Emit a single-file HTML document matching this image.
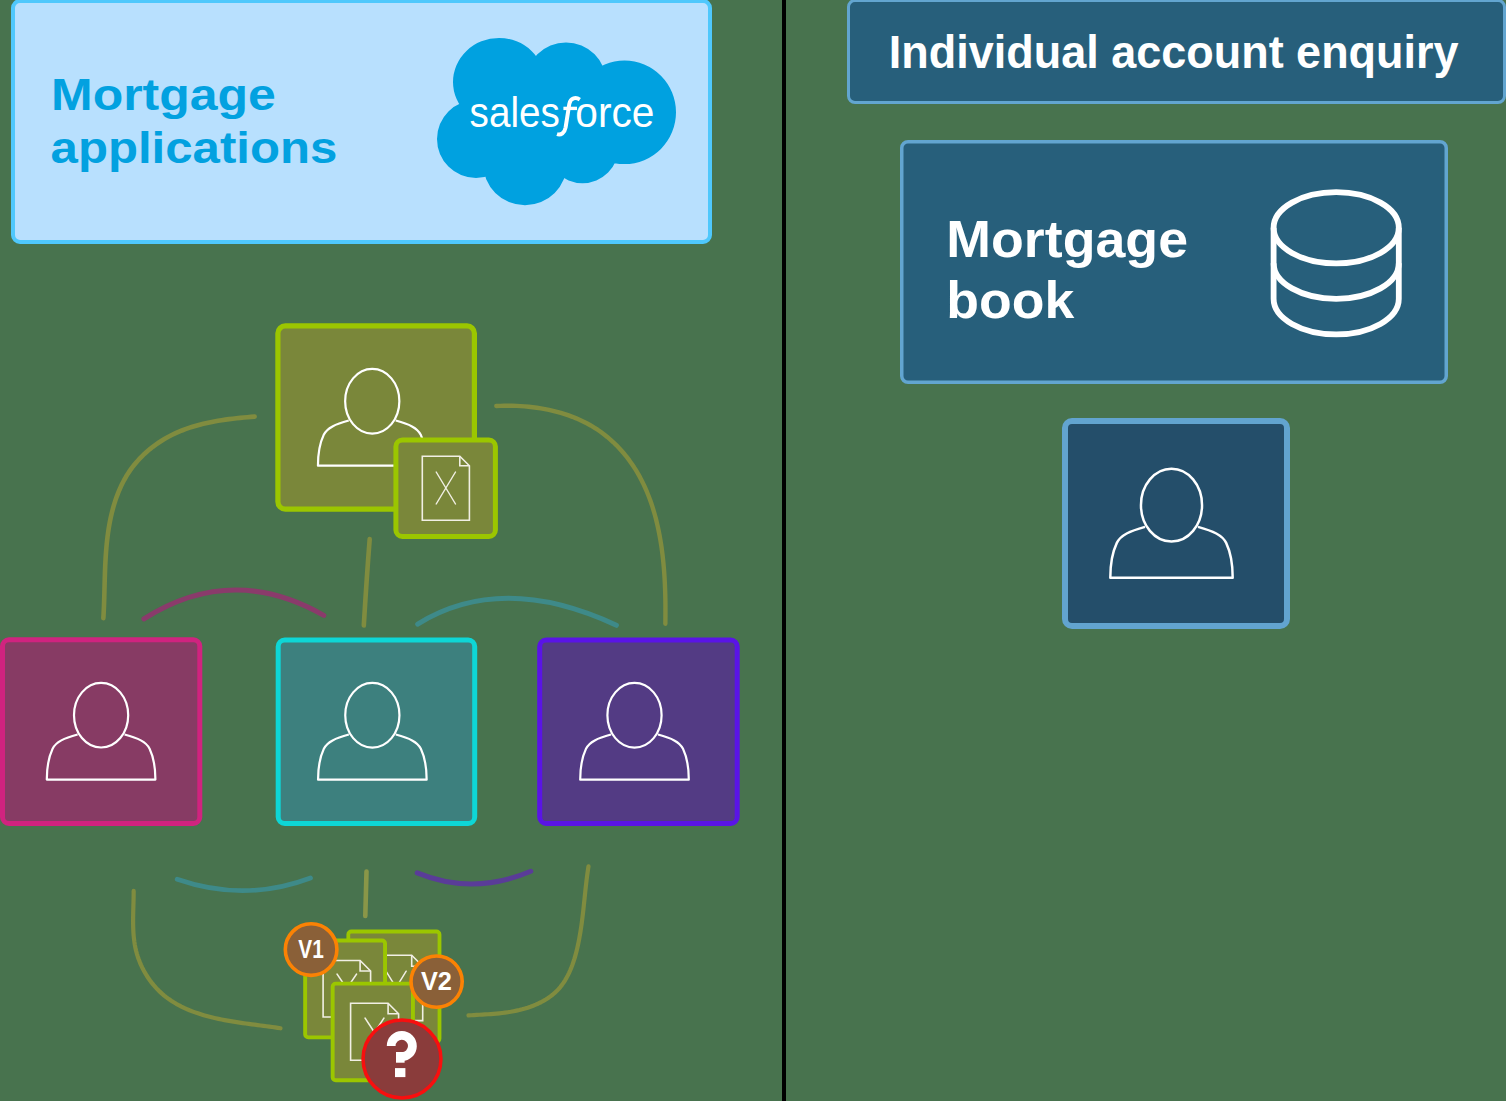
<!DOCTYPE html>
<html><head><meta charset="utf-8"><title>Mortgage diagram</title>
<style>html,body{margin:0;padding:0;background:#48734e;overflow:hidden;}svg{display:block;}text{font-family:"Liberation Sans",sans-serif;}</style>
</head><body><svg width="1506" height="1101" viewBox="0 0 1506 1101"><rect x="0" y="0" width="1506" height="1101" fill="#48734e"/><rect x="13.00" y="1.00" width="697.00" height="241.00" rx="7.00" fill="#b8e0fe" stroke="#4fc8fc" stroke-width="4.00"/><path fill="#00a1e0" fill-rule="nonzero" d="M453.00,82.00 A46.00,44.00 0 1 0 545.00,82.00 A46.00,44.00 0 1 0 453.00,82.00 ZM525.50,83.00 A40.50,40.50 0 1 0 606.50,83.00 A40.50,40.50 0 1 0 525.50,83.00 ZM573.00,112.30 A51.50,51.80 0 1 0 676.00,112.30 A51.50,51.80 0 1 0 573.00,112.30 ZM437.00,139.00 A39.00,39.00 0 1 0 515.00,139.00 A39.00,39.00 0 1 0 437.00,139.00 ZM483.00,163.30 A42.00,42.00 0 1 0 567.00,163.30 A42.00,42.00 0 1 0 483.00,163.30 ZM546.30,147.00 A36.20,36.20 0 1 0 618.70,147.00 A36.20,36.20 0 1 0 546.30,147.00 ZM476,139 L525,163.3 L582.5,147 L624.5,112.3 L566,83 L499,82 Z"/><text transform="matrix(0.9200,0,0,1.0000,469.60,127.30)" x="0" y="0" font-family="Liberation Sans" font-weight="normal" font-size="42.00" fill="#ffffff">sales</text><text transform="matrix(0.9680,0,0,1.0000,575.30,127.30)" x="0" y="0" font-family="Liberation Sans" font-weight="normal" font-size="42.00" fill="#ffffff">orce</text><path d="M579.8,99.6 C576,97 570.5,97.5 569.3,104 L565.6,127.5 C564.6,133 561,135.5 557,134.2" fill="none" stroke="#ffffff" stroke-width="4"/><path d="M563.4,108.4 L577,108.4" fill="none" stroke="#ffffff" stroke-width="3.4"/><text transform="matrix(1.1360,0,0,1.0000,51.00,110.40)" x="0" y="0" font-family="Liberation Sans" font-weight="bold" font-size="44.00" fill="#02a1e0">Mortgage</text><text transform="matrix(1.1170,0,0,1.0000,50.60,162.90)" x="0" y="0" font-family="Liberation Sans" font-weight="bold" font-size="44.00" fill="#02a1e0">applications</text><rect x="782" y="0" width="4" height="1101" fill="#000000"/><rect x="848.50" y="0.50" width="656.00" height="102.00" rx="6.50" fill="#275f7b" stroke="#62a5d0" stroke-width="3.00"/><text transform="matrix(0.9886,0,0,1.0000,888.80,67.50)" x="0" y="0" font-family="Liberation Sans" font-weight="bold" font-size="45.50" fill="#ffffff">Individual account enquiry</text><rect x="901.75" y="141.75" width="544.50" height="240.50" rx="6.25" fill="#275f7b" stroke="#62a5d0" stroke-width="3.50"/><text transform="matrix(1.0330,0,0,1.0000,946.30,256.80)" x="0" y="0" font-family="Liberation Sans" font-weight="bold" font-size="52.00" fill="#ffffff">Mortgage</text><text transform="matrix(1.0300,0,0,1.0000,946.30,318.40)" x="0" y="0" font-family="Liberation Sans" font-weight="bold" font-size="52.00" fill="#ffffff">book</text><g fill="none" stroke="#ffffff" stroke-width="5.8"><ellipse cx="1336.2" cy="227.8" rx="62.6" ry="35.6"/><path d="M1273.6,227.8 L1273.6,298.8 A62.6,35.6 0 0 0 1398.8,298.8 L1398.8,227.8"/><path d="M1273.6,263.2 A62.6,35.6 0 0 0 1398.8,263.2"/></g><rect x="1065.00" y="421.00" width="222.00" height="205.00" rx="7.00" fill="#244e6a" stroke="#62a4cf" stroke-width="6.00"/><path d="M1145.02,526.90 C1129.80,531.07 1120.79,535.02 1116.84,542.90 C1111.77,553.61 1110.30,566.01 1110.30,577.73 L1232.70,577.73 C1232.70,566.01 1231.23,553.61 1226.16,542.90 C1222.21,535.02 1213.20,531.07 1197.98,526.90" fill="none" stroke="#ffffff" stroke-width="2.48" stroke-linejoin="round"/><ellipse cx="1171.50" cy="505.15" rx="30.54" ry="36.40" fill="none" stroke="#ffffff" stroke-width="2.48"/><path d="M254.64,416.60 L251.05,416.88 L247.43,417.18 L243.80,417.51 L240.14,417.86 L236.47,418.25 L232.78,418.67 L229.09,419.13 L225.40,419.64 L221.70,420.19 L218.01,420.80 L214.32,421.46 L210.64,422.18 L206.98,422.96 L203.33,423.81 L199.69,424.72 L196.09,425.71 L192.50,426.78 L188.95,427.93 L185.43,429.17 L181.95,430.49 L178.51,431.91 L175.11,433.42 L171.75,435.03 L168.45,436.74 L165.20,438.56 L162.01,440.48 L158.88,442.49 L155.83,444.60 L152.84,446.80 L149.93,449.10 L147.10,451.49 L144.35,453.96 L141.70,456.53 L139.13,459.18 L136.67,461.92 L134.31,464.73 L132.05,467.63 L129.91,470.61 L127.88,473.67 L125.97,476.80 L124.16,479.99 L122.45,483.25 L120.85,486.57 L119.36,489.95 L117.95,493.37 L116.64,496.84 L115.42,500.35 L114.29,503.89 L113.25,507.46 L112.28,511.06 L111.39,514.69 L110.58,518.33 L109.84,521.98 L109.17,525.64 L108.56,529.32 L108.02,533.01 L107.53,536.70 L107.09,540.41 L106.70,544.12 L106.36,547.84 L106.06,551.56 L105.80,555.28 L105.57,559.01 L105.37,562.74 L105.19,566.48 L105.04,570.21 L104.91,573.93 L104.79,577.66 L104.68,581.38 L104.58,585.10 L104.48,588.81 L104.39,592.52 L104.28,596.21 L104.17,599.90 L104.05,603.58 L103.91,607.24 L103.75,610.90 L103.57,614.53 L103.36,618.16" fill="none" stroke="#808c3f" stroke-width="4.60" stroke-linecap="round" stroke-linejoin="round"/><path d="M496.28,406.02 L500.27,405.84 L504.28,405.74 L508.31,405.71 L512.36,405.75 L516.43,405.88 L520.50,406.08 L524.58,406.37 L528.66,406.74 L532.74,407.20 L536.81,407.74 L540.87,408.37 L544.92,409.09 L548.95,409.90 L552.95,410.81 L556.92,411.82 L560.86,412.92 L564.77,414.12 L568.63,415.42 L572.46,416.83 L576.23,418.34 L579.95,419.96 L583.61,421.68 L587.21,423.52 L590.74,425.47 L594.21,427.53 L597.60,429.71 L600.91,432.00 L604.14,434.41 L607.29,436.93 L610.36,439.55 L613.34,442.27 L616.24,445.08 L619.04,447.99 L621.76,450.98 L624.39,454.05 L626.92,457.20 L629.35,460.42 L631.69,463.70 L633.94,467.05 L636.08,470.45 L638.12,473.91 L640.08,477.43 L641.94,480.99 L643.71,484.61 L645.39,488.27 L646.99,491.97 L648.50,495.72 L649.93,499.50 L651.28,503.33 L652.56,507.18 L653.75,511.07 L654.88,515.00 L655.93,518.94 L656.92,522.92 L657.84,526.91 L658.69,530.93 L659.49,534.97 L660.22,539.02 L660.89,543.08 L661.51,547.16 L662.07,551.25 L662.58,555.34 L663.04,559.44 L663.45,563.54 L663.82,567.64 L664.14,571.74 L664.43,575.83 L664.67,579.91 L664.87,583.99 L665.04,588.05 L665.18,592.10 L665.29,596.14 L665.37,600.15 L665.42,604.14 L665.44,608.11 L665.45,612.06 L665.43,615.98 L665.40,619.86 L665.35,623.71" fill="none" stroke="#808c3f" stroke-width="4.40" stroke-linecap="round" stroke-linejoin="round"/><path d="M133.66,890.97 L133.65,893.88 L133.62,896.82 L133.56,899.77 L133.48,902.74 L133.40,905.73 L133.31,908.72 L133.23,911.73 L133.17,914.74 L133.12,917.76 L133.10,920.79 L133.12,923.81 L133.18,926.83 L133.29,929.85 L133.45,932.86 L133.68,935.86 L133.98,938.85 L134.37,941.83 L134.83,944.80 L135.40,947.74 L136.06,950.67 L136.83,953.57 L137.71,956.45 L138.69,959.29 L139.78,962.11 L140.96,964.88 L142.25,967.61 L143.62,970.29 L145.09,972.93 L146.64,975.50 L148.28,978.02 L150.01,980.48 L151.81,982.87 L153.69,985.18 L155.65,987.42 L157.68,989.58 L159.78,991.66 L161.95,993.65 L164.18,995.55 L166.47,997.37 L168.82,999.10 L171.23,1000.75 L173.70,1002.32 L176.21,1003.82 L178.78,1005.24 L181.39,1006.59 L184.05,1007.88 L186.75,1009.09 L189.49,1010.25 L192.26,1011.34 L195.08,1012.38 L197.92,1013.36 L200.79,1014.28 L203.69,1015.16 L206.62,1015.99 L209.56,1016.77 L212.53,1017.50 L215.51,1018.20 L218.51,1018.86 L221.52,1019.48 L224.54,1020.07 L227.57,1020.63 L230.60,1021.16 L233.63,1021.67 L236.67,1022.15 L239.70,1022.61 L242.72,1023.05 L245.74,1023.48 L248.75,1023.89 L251.75,1024.30 L254.73,1024.69 L257.69,1025.08 L260.63,1025.47 L263.55,1025.85 L266.44,1026.24 L269.31,1026.63 L272.15,1027.03 L274.95,1027.44 L277.72,1027.86 L280.45,1028.30" fill="none" stroke="#808c3f" stroke-width="4.20" stroke-linecap="round" stroke-linejoin="round"/><path d="M588.48,866.41 L588.05,869.26 L587.63,872.11 L587.24,874.95 L586.87,877.79 L586.52,880.61 L586.18,883.44 L585.86,886.25 L585.55,889.06 L585.25,891.87 L584.95,894.67 L584.66,897.47 L584.37,900.27 L584.07,903.07 L583.78,905.87 L583.47,908.66 L583.16,911.46 L582.84,914.25 L582.51,917.05 L582.16,919.85 L581.79,922.66 L581.40,925.46 L580.99,928.27 L580.55,931.09 L580.09,933.91 L579.59,936.73 L579.07,939.56 L578.51,942.40 L577.91,945.25 L577.27,948.09 L576.58,950.94 L575.85,953.77 L575.07,956.59 L574.23,959.39 L573.33,962.15 L572.37,964.89 L571.34,967.59 L570.24,970.24 L569.07,972.84 L567.83,975.38 L566.50,977.86 L565.09,980.27 L563.59,982.60 L562.00,984.86 L560.31,987.03 L558.53,989.10 L556.64,991.08 L554.66,992.95 L552.58,994.73 L550.41,996.41 L548.15,998.01 L545.82,999.51 L543.41,1000.92 L540.94,1002.24 L538.40,1003.48 L535.80,1004.64 L533.15,1005.72 L530.46,1006.73 L527.72,1007.65 L524.95,1008.51 L522.15,1009.29 L519.32,1010.01 L516.48,1010.66 L513.62,1011.25 L510.75,1011.78 L507.87,1012.24 L505.00,1012.65 L502.13,1013.01 L499.27,1013.32 L496.42,1013.60 L493.57,1013.83 L490.73,1014.04 L487.90,1014.23 L485.09,1014.40 L482.28,1014.57 L479.49,1014.73 L476.72,1014.89 L473.95,1015.06 L471.21,1015.24 L468.48,1015.45" fill="none" stroke="#808c3f" stroke-width="4.20" stroke-linecap="round" stroke-linejoin="round"/><path d="M369.7,539 Q366.5,580 363.8,625.5" fill="none" stroke="#808c3f" stroke-width="4.60" stroke-linecap="round" stroke-linejoin="round"/><path d="M366.5,871.5 L365.3,916" fill="none" stroke="#8a9648" stroke-width="4.60" stroke-linecap="round" stroke-linejoin="round"/><path d="M143.9,618.9 Q232,563 323.8,615.4" fill="none" stroke="#8a3b6b" stroke-width="5.00" stroke-linecap="round" stroke-linejoin="round"/><path d="M417.7,624.1 Q502,572 616.4,625.3" fill="none" stroke="#3e8a89" stroke-width="5.00" stroke-linecap="round" stroke-linejoin="round"/><path d="M177.2,879.3 Q244.75,902.75 310.5,878" fill="none" stroke="#3e8a89" stroke-width="4.80" stroke-linecap="round" stroke-linejoin="round"/><path d="M417.2,872.9 Q473.2,895.9 530.8,871.3" fill="none" stroke="#5a3c98" stroke-width="5.00" stroke-linecap="round" stroke-linejoin="round"/><rect x="277.90" y="325.90" width="196.50" height="183.30" rx="7.40" fill="#7a873a" stroke="#9bc600" stroke-width="5.20"/><path d="M348.75,420.55 C335.25,424.25 327.25,427.75 323.75,434.75 C319.25,444.25 317.95,455.25 317.95,465.65 L426.55,465.65 C426.55,455.25 425.25,444.25 420.75,434.75 C417.25,427.75 409.25,424.25 395.75,420.55" fill="none" stroke="#ffffff" stroke-width="2.20" stroke-linejoin="round"/><ellipse cx="372.25" cy="401.25" rx="27.10" ry="32.30" fill="none" stroke="#ffffff" stroke-width="2.20"/><rect x="395.90" y="440.00" width="99.50" height="96.50" rx="6.50" fill="#7a873a" stroke="#9bc600" stroke-width="5.00"/><path d="M422.3,456.2 L459.8,456.2 L469.4,465.8 L469.4,520.2 L422.3,520.2 Z" fill="none" stroke="#f1efe4" stroke-width="1.60" stroke-linejoin="miter"/><path d="M459.8,456.2 L459.8,465.8 L469.4,465.8" fill="none" stroke="#f1efe4" stroke-width="1.60"/><path d="M436.2,472.0 L455.5,504.0 M455.5,472.0 L436.2,504.0" stroke="#f1efe4" stroke-width="1.44" stroke-linecap="round"/><rect x="2.50" y="639.80" width="197.30" height="183.70" rx="6.50" fill="#873b64" stroke="#d0237f" stroke-width="5.00"/><path d="M77.60,734.50 C64.10,738.20 56.10,741.70 52.60,748.70 C48.10,758.20 46.80,769.20 46.80,779.60 L155.40,779.60 C155.40,769.20 154.10,758.20 149.60,748.70 C146.10,741.70 138.10,738.20 124.60,734.50" fill="none" stroke="#ffffff" stroke-width="2.20" stroke-linejoin="round"/><ellipse cx="101.10" cy="715.20" rx="27.10" ry="32.30" fill="none" stroke="#ffffff" stroke-width="2.20"/><rect x="278.20" y="640.00" width="196.50" height="183.50" rx="6.50" fill="#3d807e" stroke="#0ed6d6" stroke-width="5.00"/><path d="M348.85,734.55 C335.35,738.25 327.35,741.75 323.85,748.75 C319.35,758.25 318.05,769.25 318.05,779.65 L426.65,779.65 C426.65,769.25 425.35,758.25 420.85,748.75 C417.35,741.75 409.35,738.25 395.85,734.55" fill="none" stroke="#ffffff" stroke-width="2.20" stroke-linejoin="round"/><ellipse cx="372.35" cy="715.25" rx="27.10" ry="32.30" fill="none" stroke="#ffffff" stroke-width="2.20"/><rect x="539.70" y="640.00" width="197.50" height="183.50" rx="6.50" fill="#533b84" stroke="#5a14e6" stroke-width="5.00"/><path d="M611.00,734.55 C597.50,738.25 589.50,741.75 586.00,748.75 C581.50,758.25 580.20,769.25 580.20,779.65 L688.80,779.65 C688.80,769.25 687.50,758.25 683.00,748.75 C679.50,741.75 671.50,738.25 658.00,734.55" fill="none" stroke="#ffffff" stroke-width="2.20" stroke-linejoin="round"/><ellipse cx="634.50" cy="715.25" rx="27.10" ry="32.30" fill="none" stroke="#ffffff" stroke-width="2.20"/><rect x="348.30" y="931.50" width="91.20" height="110.20" rx="3.10" fill="#7a873a" stroke="#9bc600" stroke-width="3.80"/><path d="M374.5,955.3 L411.7,955.3 L422.7,966.3 L422.7,1020.6 L374.5,1020.6 Z" fill="none" stroke="#f1efe4" stroke-width="1.60" stroke-linejoin="miter"/><path d="M411.7,955.3 L411.7,966.3 L422.7,966.3" fill="none" stroke="#f1efe4" stroke-width="1.60"/><path d="M386.0,971.2 L406.2,1004.0 M406.2,971.2 L386.0,1004.0" stroke="#f1efe4" stroke-width="1.44" stroke-linecap="round"/><rect x="305.15" y="940.45" width="79.90" height="96.90" rx="3.05" fill="#7a873a" stroke="#9bc600" stroke-width="3.90"/><path d="M323.1,960.5 L360.1,960.5 L370.6,971.0 L370.6,1017.0 L323.1,1017.0 Z" fill="none" stroke="#f1efe4" stroke-width="1.60" stroke-linejoin="miter"/><path d="M360.1,960.5 L360.1,971.0 L370.6,971.0" fill="none" stroke="#f1efe4" stroke-width="1.60"/><path d="M337.0,974.0 L356.6,1003.0 M356.6,974.0 L337.0,1003.0" stroke="#f1efe4" stroke-width="1.44" stroke-linecap="round"/><rect x="332.65" y="983.65" width="80.30" height="96.60" rx="3.05" fill="#7a873a" stroke="#9bc600" stroke-width="3.90"/><path d="M350.6,1003.3 L388.1,1003.3 L398.6,1013.8 L398.6,1060.3 L350.6,1060.3 Z" fill="none" stroke="#f1efe4" stroke-width="1.60" stroke-linejoin="miter"/><path d="M388.1,1003.3 L388.1,1013.8 L398.6,1013.8" fill="none" stroke="#f1efe4" stroke-width="1.60"/><path d="M365.0,1018.0 L384.0,1047.0 M384.0,1018.0 L365.0,1047.0" stroke="#f1efe4" stroke-width="1.44" stroke-linecap="round"/><circle cx="311.1" cy="949.6" r="25.80" fill="#8a6038" stroke="#fb8204" stroke-width="3.6"/><text x="311.1" y="957.2" text-anchor="middle" font-family="Liberation Sans" font-weight="bold" font-size="21.0" fill="#ffffff"></text><text transform="matrix(0.8240,0,0,1.0000,298.30,958.10)" x="0" y="0" font-family="Liberation Sans" font-weight="bold" font-size="25.30" fill="#ffffff">V1</text><circle cx="436.6" cy="981.6" r="25.60" fill="#8a6038" stroke="#fb8204" stroke-width="3.6"/><text x="436.6" y="989.3" text-anchor="middle" font-family="Liberation Sans" font-weight="bold" font-size="21.0" fill="#ffffff"></text><text transform="matrix(1.0000,0,0,1.0000,421.00,990.10)" x="0" y="0" font-family="Liberation Sans" font-weight="bold" font-size="25.30" fill="#ffffff">V2</text><circle cx="402.0" cy="1059.0" r="38.95" fill="#8a3c3b" stroke="#f80f0f" stroke-width="3.5"/><text x="402.0" y="1077.2" text-anchor="middle" font-family="Liberation Sans" font-weight="bold" font-size="64.0" fill="#ffffff"></text><path d="M391.2,1046 A10.6,10.6 0 1 1 401.6,1056.6" fill="none" stroke="#ffffff" stroke-width="8.8"/><rect x="396" y="1052" width="8.6" height="10.7" fill="#ffffff"/><rect x="395" y="1068.1" width="10.4" height="9" fill="#ffffff"/></svg></body></html>
